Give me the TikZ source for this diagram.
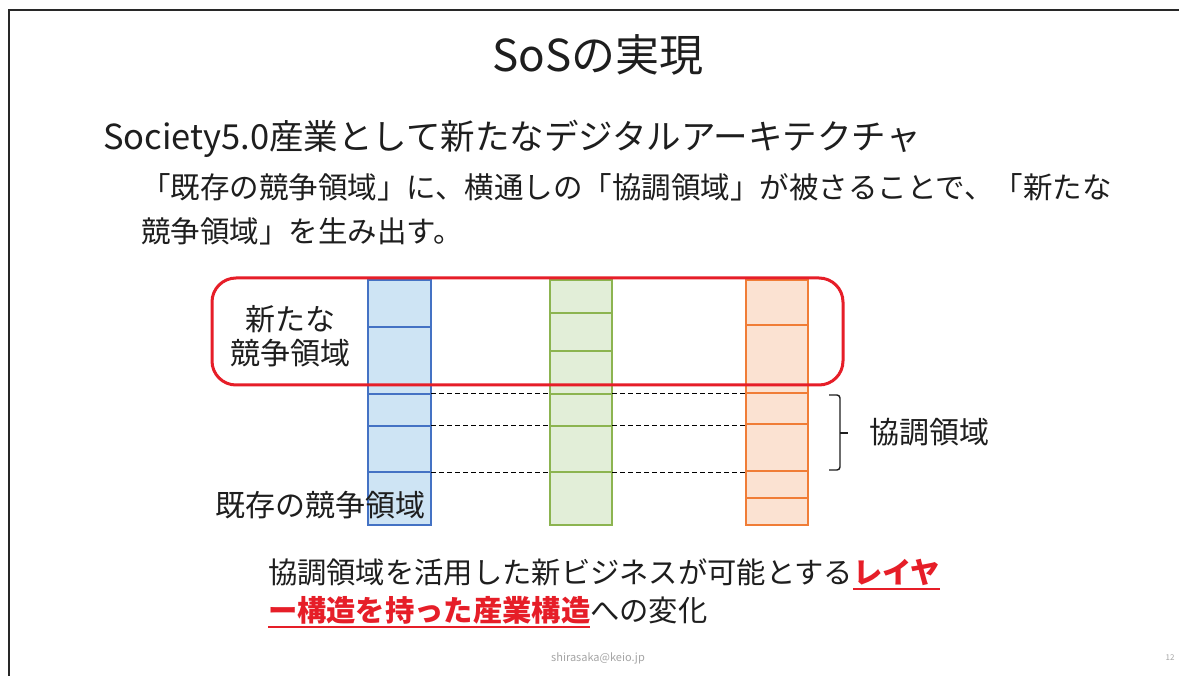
\documentclass[tikz,border=0pt]{standalone}
\usepackage{fontspec}
\setmainfont{Noto Sans CJK JP}
\definecolor{bluefill}{RGB}{206,228,244}
\definecolor{bluedraw}{RGB}{68,114,196}
\definecolor{greenfill}{RGB}{226,238,216}
\definecolor{greendraw}{RGB}{140,180,80}
\definecolor{orangefill}{RGB}{251,226,210}
\definecolor{orangedraw}{RGB}{240,125,55}
\definecolor{hlred}{RGB}{230,30,40}
\definecolor{ink}{RGB}{30,30,30}
\definecolor{framegray}{RGB}{40,40,40}
\definecolor{footgray}{RGB}{165,165,165}
\tikzset{
  txt/.style={inner sep=0pt, outer sep=0pt, text=ink},
  fs/.style={font=\fontsize{#1}{#1}\selectfont},
  cellline/.style={line width=1.8pt},
  dashline/.style={dashed, dash pattern=on 5pt off 3pt, line width=1pt, black},
  redtext/.style={txt, text=hlred, font=\fontsize{29.3}{29.3}\selectfont\bfseries},
  blacktext/.style={txt, font=\fontsize{29.3}{29.3}\selectfont},
}
\begin{document}
\begin{tikzpicture}[x=1pt,y=-1pt]
\useasboundingbox (0,0) rectangle (1179,676);
\fill[white] (0,0) rectangle (1179,676);
% frame
\draw[framegray, line width=2pt] (8.5,676) -- (8.5,10.5) -- (1179,10.5);

% title and texts
\node[txt, fs=44, anchor=base] (title) at (598,72) {SoSの実現};
\node[txt, fs=34.5, anchor=base west] (head) at (103,150) {Society5.0産業として新たなデジタルアーキテクチャ};
\node[txt, fs=29.5, anchor=base west] (l2) at (141,199) {「既存の競争領域」に、横通しの「協調領域」が被さることで、「新たな};
\node[txt, fs=29.5, anchor=base west] (l3) at (141,243) {競争領域」を生み出す。};

% columns
% blue
\fill[bluefill] (368,280) rectangle (431,525);
\foreach \y in {327,394,426,472} \draw[bluedraw, cellline] (368,\y) -- (431,\y);
\draw[bluedraw, cellline] (368,280) rectangle (431,525);
% green
\fill[greenfill] (550,280) rectangle (612,525);
\foreach \y in {313,351,394,426,472} \draw[greendraw, cellline] (550,\y) -- (612,\y);
\draw[greendraw, cellline] (550,280) rectangle (612,525);
% orange
\fill[orangefill] (746,280) rectangle (808,525);
\foreach \y in {325,393,424,471,498} \draw[orangedraw, cellline] (746,\y) -- (808,\y);
\draw[orangedraw, cellline] (746,280) rectangle (808,525);

% dashed connectors
\foreach \n/\y in {a/394,b/426,c/472}{
  \coordinate (b\n) at (431,\y);
  \coordinate (gl\n) at (550,\y);
  \coordinate (gr\n) at (612,\y);
  \coordinate (o\n) at (746,\y);
  \draw[dashline] (b\n) -- (gl\n);
  \draw[dashline] (gr\n) -- (o\n);
}

% red rounded rectangle
\draw[hlred, line width=3pt, rounded corners=24pt] (212,278) rectangle (843,385);

% labels
\node[txt, fs=30, align=center, anchor=center] (newarea) at (290,336) {新たな\\[4pt]競争領域};
\node[txt, fs=30, anchor=base] (oldarea) at (320,516) {既存の競争領域};

% brace
\coordinate (brtop) at (829,395);
\coordinate (brbot) at (829,470);
\draw[ink, line width=1.4pt, rounded corners=3pt] (brtop) -- (840,395) -- (840,470) -- (brbot);
\draw[ink, line width=1.4pt] (840,433) -- (848,433);
\node[txt, fs=30, anchor=base west] (coop) at (869,444) {協調領域};

% bottom text
\node[blacktext, anchor=base west] (b1a) at (268,583) {協調領域を活用した新ビジネスが可能とする};
\node[redtext, anchor=base west] (b1b) at (b1a.base east) {レイヤ};
\node[redtext, anchor=base west] (b2a) at (268,621) {ー構造を持った産業構造};
\node[blacktext, anchor=base west] (b2b) at (b2a.base east) {への変化};
\draw[hlred, line width=2pt] ([yshift=-6pt]b1b.base west) -- ([yshift=-6pt]b1b.base east);
\draw[hlred, line width=2pt] ([yshift=-6pt]b2a.base west) -- ([yshift=-6pt]b2a.base east);

% footer
\node[txt, text=footgray, fs=11, anchor=center] (mail) at (598,658) {shirasaka@keio.jp};
\node[txt, text=footgray, fs=8, anchor=center] (page) at (1170,658) {12};
\end{tikzpicture}
\end{document}
